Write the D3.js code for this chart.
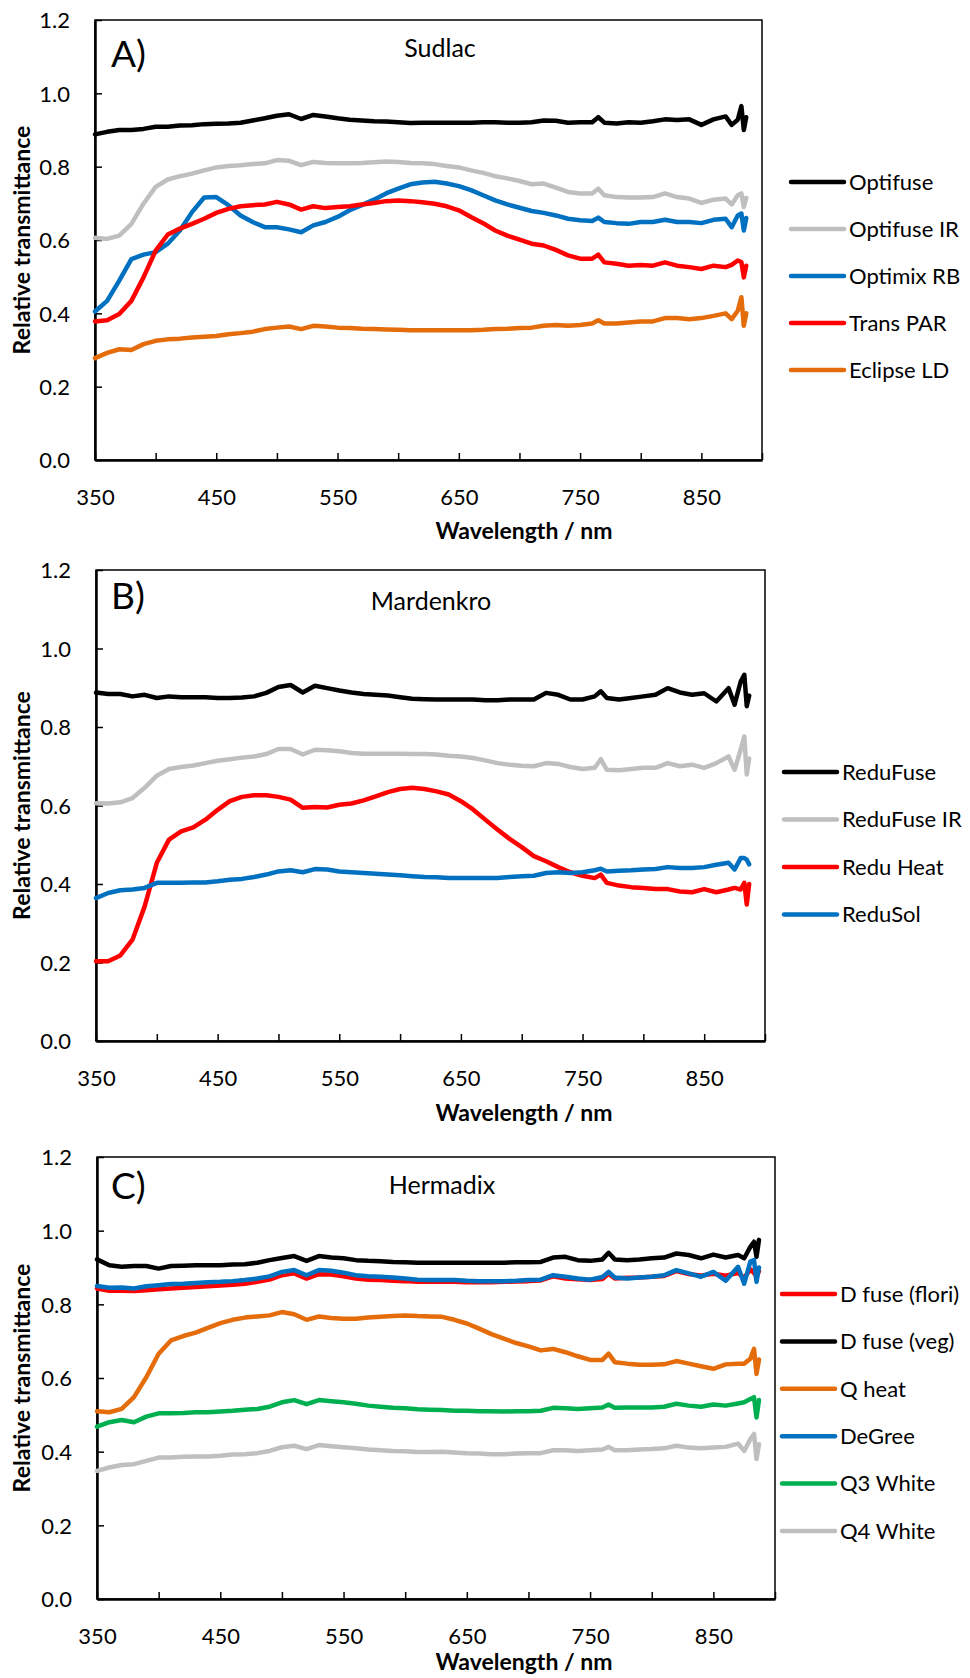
<!DOCTYPE html>
<html>
<head>
<meta charset="utf-8">
<script src="https://cdn.jsdelivr.net/npm/d3@7"></script>
<style>
  body { margin: 0; background: #fff; }
  svg text { font-family: Lato, 'Open Sans', sans-serif; fill: #000; }
</style>
</head>
<body>
<div id="chart"></div>
<script>
const width = 970;
const height = 1678;

// wavelengths (nm) shared by every series
const wavelengths = [350,360,370,380,390,400,410,420,430,440,450,460,470,480,490,500,510,520,530,540,550,560,570,580,590,600,610,620,630,640,650,660,670,680,690,700,710,720,730,740,750,760,765,770,780,790,800,810,820,830,840,850,860,870,875,880,883,885,887];

// A) Sudlac
const optifuse   = [.888,.895,.900,.900,.903,.909,.909,.912,.913,.916,.917,.918,.920,.926,.932,.939,.943,.930,.941,.937,.932,.928,.926,.924,.923,.921,.919,.920,.920,.920,.920,.920,.921,.921,.920,.920,.921,.926,.925,.920,.921,.921,.935,.920,.918,.921,.920,.924,.929,.927,.929,.914,.929,.937,.914,.928,.965,.900,.935];
const optifuseIR = [.606,.603,.612,.644,.699,.745,.765,.774,.781,.790,.798,.802,.804,.807,.809,.818,.816,.804,.813,.810,.809,.809,.810,.812,.814,.813,.810,.809,.807,.802,.798,.790,.783,.774,.768,.761,.752,.754,.743,.731,.727,.727,.740,.722,.717,.716,.716,.717,.727,.717,.713,.701,.710,.713,.697,.722,.727,.690,.715];
const optimixRB  = [.405,.434,.489,.548,.560,.567,.590,.626,.676,.716,.717,.695,.667,.649,.635,.635,.629,.621,.640,.649,.663,.681,.695,.710,.727,.740,.752,.757,.759,.754,.747,.736,.722,.708,.697,.688,.679,.674,.667,.658,.654,.652,.661,.649,.646,.644,.649,.649,.655,.649,.649,.646,.655,.658,.635,.667,.672,.626,.660];
const transPAR   = [.378,.381,.398,.434,.498,.571,.615,.631,.644,.658,.674,.685,.692,.695,.697,.704,.697,.683,.692,.687,.690,.692,.697,.701,.706,.708,.706,.703,.699,.692,.681,.663,.646,.626,.612,.601,.590,.585,.573,.558,.549,.549,.560,.539,.535,.530,.532,.530,.539,.530,.526,.521,.530,.526,.532,.544,.540,.498,.530];
const eclipseLD  = [.278,.292,.302,.300,.316,.325,.329,.331,.334,.336,.338,.343,.346,.350,.357,.361,.364,.357,.366,.364,.361,.360,.358,.357,.356,.355,.354,.354,.354,.354,.354,.354,.355,.357,.358,.360,.361,.366,.368,.366,.368,.372,.381,.372,.372,.375,.378,.378,.387,.387,.384,.387,.393,.400,.384,.407,.444,.366,.400];

// B) Mardenkro
const reduFuse   = [.888,.884,.884,.878,.882,.874,.878,.876,.876,.876,.874,.874,.875,.878,.887,.902,.907,.888,.905,.899,.893,.888,.884,.882,.880,.876,.872,.871,.870,.870,.870,.870,.868,.868,.870,.870,.870,.887,.882,.870,.870,.878,.891,.874,.870,.874,.878,.882,.899,.888,.882,.886,.865,.899,.857,.916,.933,.853,.880];
const reduFuseIR = [.606,.605,.608,.619,.645,.676,.693,.698,.702,.708,.714,.718,.722,.725,.731,.744,.744,.730,.742,.741,.738,.734,.732,.732,.732,.732,.731,.731,.730,.727,.725,.721,.715,.708,.704,.701,.700,.708,.706,.698,.693,.696,.718,.691,.690,.693,.696,.696,.708,.700,.704,.696,.708,.725,.691,.742,.776,.679,.720];
const reduHeat   = [.203,.203,.218,.258,.343,.454,.513,.534,.544,.564,.589,.611,.622,.626,.626,.622,.615,.594,.596,.595,.602,.605,.613,.623,.634,.642,.645,.642,.636,.628,.611,.590,.564,.539,.515,.494,.471,.458,.443,.430,.421,.415,.424,.403,.396,.392,.390,.387,.387,.381,.379,.387,.379,.386,.390,.386,.403,.348,.400];
const reduSol    = [.364,.377,.384,.386,.390,.403,.403,.403,.404,.404,.407,.411,.413,.418,.424,.432,.435,.430,.438,.437,.432,.430,.428,.426,.424,.422,.420,.418,.417,.415,.415,.415,.415,.415,.418,.420,.421,.428,.430,.428,.430,.435,.439,.432,.434,.435,.437,.438,.443,.441,.441,.443,.449,.454,.437,.466,.466,.462,.450];

// C) Hermadix
const dFuseFlori = [.843,.837,.837,.836,.838,.841,.843,.845,.847,.849,.851,.853,.856,.861,.867,.879,.884,.870,.882,.881,.876,.870,.867,.866,.864,.863,.861,.861,.862,.861,.860,.860,.860,.861,.862,.863,.865,.876,.870,.868,.866,.869,.883,.870,.872,.873,.875,.877,.890,.882,.878,.883,.878,.885,.872,.895,.885,.875,.890];
const dFuseVeg   = [.922,.906,.902,.904,.904,.897,.904,.905,.906,.906,.906,.908,.909,.913,.920,.926,.931,.918,.931,.927,.925,.920,.918,.917,.915,.914,.913,.913,.913,.913,.913,.913,.913,.913,.914,.914,.915,.927,.929,.920,.918,.922,.940,.922,.920,.922,.925,.927,.938,.934,.925,.935,.927,.934,.925,.956,.970,.929,.975];
const qHeat      = [.510,.507,.516,.548,.602,.666,.702,.714,.723,.736,.749,.758,.764,.767,.770,.779,.773,.758,.767,.763,.761,.761,.764,.766,.768,.770,.768,.767,.766,.758,.748,.734,.719,.707,.695,.686,.675,.679,.670,.659,.649,.649,.666,.643,.639,.636,.636,.637,.646,.639,.632,.625,.637,.639,.639,.652,.679,.611,.650];
const deGree     = [.850,.845,.846,.843,.849,.852,.855,.856,.858,.860,.861,.863,.866,.870,.876,.888,.893,.879,.893,.891,.886,.879,.876,.875,.873,.870,.867,.866,.866,.866,.864,.863,.863,.863,.864,.866,.867,.879,.875,.870,.867,.874,.888,.873,.870,.873,.875,.879,.893,.884,.875,.888,.864,.902,.856,.916,.920,.861,.900];
const q3White    = [.468,.480,.486,.480,.495,.504,.504,.505,.507,.507,.509,.511,.514,.516,.522,.534,.540,.529,.540,.537,.534,.530,.525,.522,.519,.518,.515,.514,.513,.511,.511,.510,.510,.509,.510,.510,.511,.519,.518,.516,.518,.520,.528,.519,.520,.520,.520,.522,.530,.525,.522,.528,.525,.531,.534,.543,.548,.493,.540];
const q4White    = [.348,.357,.364,.366,.375,.384,.384,.386,.387,.387,.389,.392,.393,.396,.402,.412,.416,.407,.418,.415,.412,.409,.406,.404,.402,.401,.399,.399,.400,.398,.396,.395,.393,.393,.395,.396,.396,.404,.404,.402,.404,.406,.413,.404,.404,.406,.407,.409,.416,.411,.409,.411,.413,.422,.402,.434,.448,.380,.420];

const xTickValues = [350,400,450,500,550,600,650,700,750,800,850,900];
const xTickLabels = [350,450,550,650,750,850];
const yTickValues = [0,0.2,0.4,0.6,0.8,1.0,1.2];

const colors = {
  black: '#000000', grey: '#bfbfbf', blue: '#0070c0',
  red: '#ff0000', orange: '#e46c0a', green: '#00b050'
};

// layout of each panel (pixel positions)
const panels = [
  {
    letter: 'A)', title: 'Sudlac',
    left: 95, right: 762, top: 20, bottom: 460,
    letterY: 67, titleX: 440, titleY: 57, xTitleY: 531,
    legendX: 791, legendY: 182, legendStep: 47,
    series: [
      { name: 'Optifuse', color: colors.black, values: optifuse },
      { name: 'Optifuse IR', color: colors.grey, values: optifuseIR },
      { name: 'Optimix RB', color: colors.blue, values: optimixRB },
      { name: 'Trans PAR', color: colors.red, values: transPAR },
      { name: 'Eclipse LD', color: colors.orange, values: eclipseLD }
    ]
  },
  {
    letter: 'B)', title: 'Mardenkro',
    left: 96, right: 765, top: 570, bottom: 1041,
    letterY: 609, titleX: 431, titleY: 610, xTitleY: 1113,
    legendX: 784, legendY: 772, legendStep: 47.5,
    series: [
      { name: 'ReduFuse', color: colors.black, values: reduFuse },
      { name: 'ReduFuse IR', color: colors.grey, values: reduFuseIR },
      { name: 'Redu Heat', color: colors.red, values: reduHeat },
      { name: 'ReduSol', color: colors.blue, values: reduSol }
    ]
  },
  {
    letter: 'C)', title: 'Hermadix',
    left: 97, right: 775, top: 1157, bottom: 1599,
    letterY: 1199, titleX: 442, titleY: 1194, xTitleY: 1662,
    legendX: 782, legendY: 1294, legendStep: 47.4,
    series: [
      { name: 'D fuse (flori)', color: colors.red, values: dFuseFlori },
      { name: 'D fuse (veg)', color: colors.black, values: dFuseVeg },
      { name: 'Q heat', color: colors.orange, values: qHeat },
      { name: 'DeGree', color: colors.blue, values: deGree },
      { name: 'Q3 White', color: colors.green, values: q3White },
      { name: 'Q4 White', color: colors.grey, values: q4White }
    ]
  }
];

const svg = d3.select('#chart').append('svg').attr('width', width).attr('height', height);

panels.forEach(p => {
  const x = d3.scaleLinear().domain([350, 900]).range([p.left, p.right]);
  const y = d3.scaleLinear().domain([0, 1.2]).range([p.bottom, p.top]);
  const g = svg.append('g');

  // frame
  g.append('rect')
    .attr('x', p.left).attr('y', p.top)
    .attr('width', p.right - p.left).attr('height', p.bottom - p.top)
    .attr('fill', 'none').attr('stroke', '#000').attr('stroke-width', 1.5);

  // x axis, ticks pointing inwards
  const xAxis = g.append('g')
    .attr('transform', `translate(0,${p.bottom})`)
    .call(d3.axisBottom(x).tickValues(xTickValues).tickSizeInner(-7).tickSizeOuter(0)
      .tickFormat(d => xTickLabels.includes(d) ? d : ''));
  xAxis.select('.domain').attr('stroke-width', 2.5);
  xAxis.selectAll('.tick line').attr('stroke-width', 1.5);
  xAxis.selectAll('.tick text')
    .attr('y', 37).attr('dy', '0.35em')
    .style('font-size', '22px').style('font-family', 'Lato, sans-serif');

  // y axis
  const yAxis = g.append('g')
    .attr('transform', `translate(${p.left},0)`)
    .call(d3.axisLeft(y).tickValues(yTickValues).tickSizeInner(-7).tickSizeOuter(0)
      .tickFormat(d3.format('.1f')));
  yAxis.select('.domain').attr('stroke-width', 2.5);
  yAxis.selectAll('.tick line').attr('stroke-width', 1.5);
  yAxis.selectAll('.tick text')
    .attr('x', -25).attr('dy', '0.35em')
    .style('font-size', '22px').style('font-family', 'Lato, sans-serif');

  // axis titles
  g.append('text')
    .attr('x', 524).attr('y', p.xTitleY)
    .attr('text-anchor', 'middle').attr('dy', '0.35em')
    .style('font-size', '23px').style('font-weight', 'bold')
    .text('Wavelength / nm');

  g.append('text')
    .attr('transform', `translate(22,${(p.top + p.bottom) / 2}) rotate(-90)`)
    .attr('text-anchor', 'middle').attr('dy', '0.35em')
    .style('font-size', '23px').style('font-weight', 'bold')
    .text('Relative transmittance');

  // panel letter and title
  g.append('text')
    .attr('x', 111).attr('y', p.letterY)
    .style('font-size', '37px')
    .text(p.letter);
  g.append('text')
    .attr('x', p.titleX).attr('y', p.titleY)
    .attr('text-anchor', 'middle')
    .style('font-size', '25px')
    .text(p.title);

  // series
  const line = d3.line()
    .x((d, i) => x(wavelengths[i]))
    .y(d => y(d));

  p.series.forEach(s => {
    g.append('path')
      .datum(s.values)
      .attr('d', line)
      .attr('fill', 'none')
      .attr('stroke', s.color)
      .attr('stroke-width', 4.5)
      .attr('stroke-linejoin', 'round')
      .attr('stroke-linecap', 'round');
  });

  // legend
  const legend = g.selectAll('.legend-item')
    .data(p.series)
    .enter()
    .append('g')
    .attr('class', 'legend-item')
    .attr('transform', (d, i) => `translate(${p.legendX},${p.legendY + i * p.legendStep})`);

  legend.append('line')
    .attr('x1', 0).attr('x2', 53)
    .attr('stroke', d => d.color)
    .attr('stroke-width', 4.5)
    .attr('stroke-linecap', 'round');

  legend.append('text')
    .attr('x', 58).attr('dy', '0.35em')
    .style('font-size', '22px')
    .text(d => d.name);
});
</script>
</body>
</html>
